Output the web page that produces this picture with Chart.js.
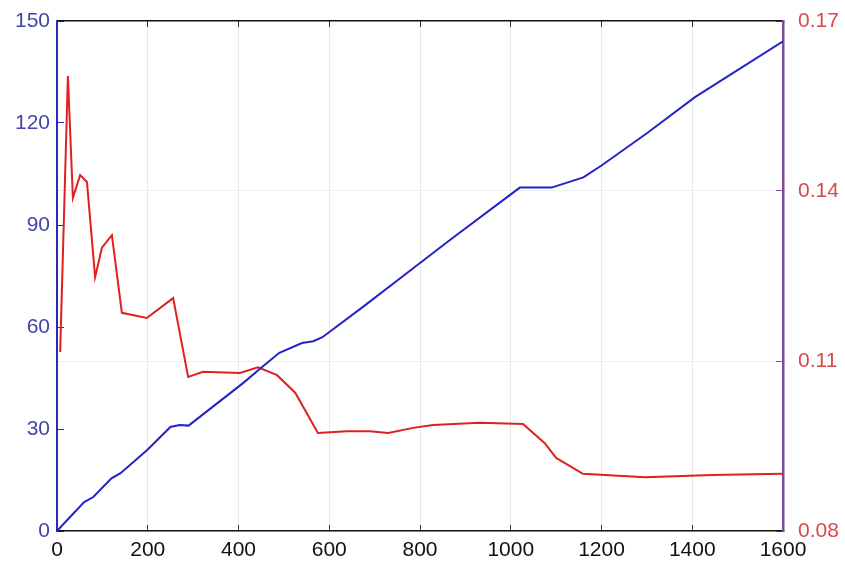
<!DOCTYPE html>
<html>
<head>
<meta charset="utf-8">
<script src="https://cdn.jsdelivr.net/npm/chart.js@4/dist/chart.umd.min.js"></script>
<style>
  html, body { margin: 0; padding: 0; background: #fff; }
  #wrap { width: 845px; height: 563px; }
</style>
</head>
<body>
<div id="wrap"><canvas id="line-chart"></canvas></div>
<script>
// blue series, left axis
var blueX = [0, 35, 60, 80, 120, 140, 200, 250, 270, 290, 410, 450, 490, 540, 565, 585, 675, 785, 866, 1020, 1090, 1160, 1200, 1300, 1406, 1600];
var blueY = [0, 5, 8.5, 10, 15.5, 17, 24, 30.6, 31.2, 31, 43.5, 48, 52.4, 55.3, 55.8, 57, 66, 77.3, 85.6, 101, 101, 104, 107.5, 117, 127.6, 144];

// red series, right axis
var redX = [7, 24, 35, 51, 66, 84, 99, 121, 143, 198, 256, 289, 322, 403, 443, 485, 525, 575, 639, 690, 730, 785, 829, 932, 1027, 1075, 1100, 1159, 1296, 1444, 1600];
var redY = [0.1116, 0.1603, 0.1388, 0.1428, 0.1416, 0.1248, 0.1300, 0.1322, 0.1185, 0.1176, 0.1211, 0.1072, 0.1081, 0.1079, 0.1089, 0.1075, 0.1044, 0.0973, 0.0976, 0.0976, 0.0973, 0.0982, 0.0987, 0.0991, 0.0989, 0.0955, 0.0929, 0.0901, 0.0895, 0.0899, 0.0901];

var xTicks = [0, 200, 400, 600, 800, 1000, 1200, 1400, 1600];
var leftTicks = [0, 30, 60, 90, 120, 150];
var rightTicks = [0.08, 0.11, 0.14, 0.17];

function pts(xs, ys) {
    return xs.map(function (x, i) { return { x: x, y: ys[i] }; });
}
function setTicks(list) {
    return function (scale) {
        scale.ticks = list.map(function (v) { return { value: v }; });
    };
}
// hide grid lines that sit on the frame
function innerOnly(color, n) {
    return function (ctx) {
        return (ctx.index === 0 || ctx.index === n - 1) ? 'rgba(0,0,0,0)' : color;
    };
}
function fixWidth(w) {
    return function (s) { s.width = w; s.paddingTop = 0; s.paddingBottom = 0; };
}

var font = { family: "'Liberation Sans', Arial, sans-serif", size: 21 };

new Chart(document.getElementById("line-chart"), {
    type: 'line',
    data: {
        datasets: [
            {
                label: "blue",
                data: pts(blueX, blueY),
                borderColor: "#2323c8",
                borderWidth: 2,
                pointRadius: 0,
                tension: 0,
                xAxisID: 'x',
                yAxisID: 'y'
            },
            {
                label: "red",
                data: pts(redX, redY),
                borderColor: "#e02020",
                borderWidth: 2,
                pointRadius: 0,
                tension: 0,
                xAxisID: 'x',
                yAxisID: 'y1'
            }
        ]
    },
    options: {
        responsive: true,
        maintainAspectRatio: false,
        animation: false,
        layout: { padding: { top: 21, left: 0, right: 0, bottom: 0 } },
        plugins: { legend: { display: false }, tooltip: { enabled: false } },
        scales: {
            x: {
                type: 'linear',
                position: 'bottom',
                min: 0,
                max: 1600,
                afterBuildTicks: setTicks(xTicks),
                afterFit: function (s) { s.height = 32; },
                ticks: { font: font, color: '#111', padding: 13, maxRotation: 0,
                         callback: function (v) { return String(v); } },
                grid: { color: innerOnly('#e8e8e8', xTicks.length), tickColor: '#333', tickLength: -6, lineWidth: 1 },
                border: { color: '#111', width: 1.5 }
            },
            x2: {
                type: 'linear',
                position: 'top',
                min: 0,
                max: 1600,
                afterBuildTicks: setTicks(xTicks),
                afterFit: function (s) { s.height = 0; },
                ticks: { display: false },
                grid: { drawOnChartArea: false, tickColor: '#333', tickLength: -6 },
                border: { color: '#111', width: 1.5 }
            },
            y: {
                position: 'left',
                min: 0,
                max: 150,
                afterBuildTicks: setTicks(leftTicks),
                afterFit: fixWidth(57),
                ticks: { font: font, color: '#4545a8', padding: 14 },
                grid: { drawOnChartArea: false, tickColor: '#2a2ab8', tickLength: -7 },
                border: { color: '#2a2ab8', width: 2 }
            },
            y1: {
                position: 'right',
                min: 0.08,
                max: 0.17,
                afterBuildTicks: setTicks(rightTicks),
                afterFit: fixWidth(62),
                ticks: {
                    font: font,
                    color: '#d84a4a',
                    padding: 22,
                    callback: function (v) { return v.toFixed(2); }
                },
                grid: { color: innerOnly('#ededed', rightTicks.length), tickColor: '#8a4aa0', tickLength: -7 },
                border: { color: '#7e4a9c', width: 2.5 }
            }
        }
    }
});
</script>
</body>
</html>
